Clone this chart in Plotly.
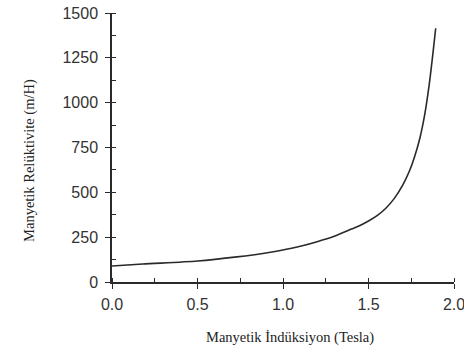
import plotly.graph_objects as go

induction = [0.0, 0.18, 0.5, 0.73, 0.9, 1.05, 1.2, 1.3, 1.4, 1.45, 1.5, 1.55, 1.6, 1.65,
             1.7, 1.74, 1.77, 1.8, 1.83, 1.855, 1.875, 1.893]
reluctivity = [89, 100, 117, 140, 162, 188, 225, 255, 295, 315, 340, 370, 410, 465,
               540, 620, 700, 800, 940, 1100, 1260, 1415]

x_ticks = [0.0, 0.5, 1.0, 1.5, 2.0]
x_tick_labels = ["0.0", "0.5", "1.0", "1.5", "2.0"]
y_ticks = [0, 250, 500, 750, 1000, 1250, 1500]

x_title = "Manyetik İndüksiyon (Tesla)"
y_title = "Manyetik Relüktivite (m/H)"

ink = "#2a2a2a"

fig = go.Figure()
fig.add_trace(go.Scatter(
    x=induction, y=reluctivity, mode="lines",
    line=dict(color=ink, width=1.6, shape="spline", smoothing=0.8),
    showlegend=False, hoverinfo="skip", cliponaxis=False))

axis_common = dict(
    showline=True, linecolor=ink, linewidth=1.5,
    ticks="outside", ticklen=5, tickwidth=1.3, tickcolor=ink,
    showgrid=False, zeroline=False, automargin=False,
    ticklabeloverflow="allow",
    tickfont=dict(family="Liberation Sans, Arial", size=16, color="#333333"),
)

fig.update_layout(
    width=464, height=351,
    margin=dict(l=112, r=10, t=13, b=69, autoexpand=False),
    paper_bgcolor="white", plot_bgcolor="white",
    xaxis=dict(range=[0, 2.0], tickvals=x_ticks, ticktext=x_tick_labels,
               minor=dict(ticks="inside", dtick=0.25, ticklen=4, tickcolor=ink, tickwidth=1.2),
               ticklabelstandoff=2,
               **axis_common),
    yaxis=dict(range=[0, 1500], tickvals=y_ticks,
               minor=dict(ticks="inside", dtick=125, ticklen=4, tickcolor=ink, tickwidth=1.2),
               ticklabelstandoff=4,
               **axis_common),
    annotations=[
        dict(text=x_title, xref="paper", yref="paper", x=0.52, y=0, yshift=-55,
             showarrow=False, xanchor="center", yanchor="middle",
             font=dict(family="Liberation Serif, Times New Roman", size=14.5, color="#222222")),
        dict(text=y_title, xref="paper", yref="paper", x=0, xshift=-82, y=0.45,
             showarrow=False, textangle=-90, xanchor="center", yanchor="middle",
             font=dict(family="Liberation Serif, Times New Roman", size=14.5, color="#222222")),
    ],
)

fig.write_html("out.html", config={"displayModeBar": False},
               post_script="document.body.style.margin='0';document.body.style.overflow='hidden';")
